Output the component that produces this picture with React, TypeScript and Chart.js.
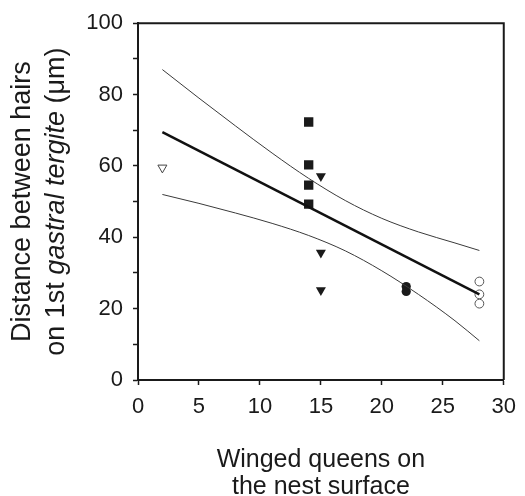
import React, { useEffect, useRef } from "react";
import { Chart, registerables } from "chart.js";

Chart.register(...registerables);

// Observations: winged queens on nest surface (x) vs distance between hairs (y, µm)
const openTriangleX = [2];
const openTriangleY = [59.5];
const squareX = [14, 14, 14, 14];
const squareY = [72.3, 60.3, 54.6, 49.3];
const triangleX = [15, 15, 15];
const triangleY = [57.1, 35.7, 25.2];
const filledCircleX = [22, 22];
const filledCircleY = [26.2, 24.8];
const openCircleX = [28, 28, 28];
const openCircleY = [27.6, 24.0, 21.4];

// Regression line and confidence band
const fitX = [2, 28];
const fitY = [69.5, 24.0];
const bandX = [2, 5, 8, 11, 14, 17, 20, 23, 26, 28];
const upperY = [87.0, 79.0, 71.2, 63.6, 56.5, 50.3, 45.3, 41.5, 38.4, 36.3];
const lowerY = [52.0, 49.5, 46.8, 43.9, 40.5, 36.2, 30.6, 24.0, 16.6, 11.0];

const xTicks = [0, 5, 10, 15, 20, 25, 30];
const yLabelStep = 20;

const xTitleLines = ["Winged queens on", "the nest surface"];
const yTitleLine1 = "Distance between hairs";
const yTitleLine2 = [
  { text: "on 1st ", italic: false },
  { text: "gastral tergite", italic: true },
  { text: " (μm)", italic: false },
];

const FONT = "'Liberation Sans', Arial, Helvetica, sans-serif";

const zip = (xs: number[], ys: number[]) => xs.map((x, i) => ({ x, y: ys[i] }));

const framePlugin = {
  id: "frameAndTitles",
  afterDraw(chart: any) {
    const { ctx, chartArea } = chart;
    const { left, right, top, bottom } = chartArea;
    ctx.save();
    // top and right frame
    ctx.strokeStyle = "#1a1a1a";
    ctx.lineWidth = 2;
    ctx.beginPath();
    ctx.moveTo(left, top);
    ctx.lineTo(right, top);
    ctx.lineTo(right, bottom);
    ctx.stroke();

    ctx.fillStyle = "#1a1a1a";
    // x title
    const cx = (left + right) / 2;
    ctx.font = `25px ${FONT}`;
    ctx.textAlign = "center";
    ctx.textBaseline = "alphabetic";
    ctx.fillText(xTitleLines[0], cx, 467);
    ctx.fillText(xTitleLines[1], cx, 494);

    // y title (rotated)
    const cy = (top + bottom) / 2;
    ctx.translate(0, cy);
    ctx.rotate(-Math.PI / 2);
    ctx.font = `27px ${FONT}`;
    ctx.textAlign = "center";
    ctx.fillText(yTitleLine1, 0, 30);
    ctx.textAlign = "left";
    const widths = yTitleLine2.map((s) => {
      ctx.font = `${s.italic ? "italic " : ""}27px ${FONT}`;
      return ctx.measureText(s.text).width;
    });
    const total = widths.reduce((a, b) => a + b, 0);
    let px = -total / 2;
    yTitleLine2.forEach((s, i) => {
      ctx.font = `${s.italic ? "italic " : ""}27px ${FONT}`;
      ctx.fillText(s.text, px, 64);
      px += widths[i];
    });
    ctx.restore();
  },
};

export default function App() {
  const ref = useRef<HTMLCanvasElement | null>(null);

  useEffect(() => {
    if (!ref.current) return;
    const chart = new Chart(ref.current, {
      type: "scatter",
      data: {
        datasets: [
          {
            label: "upper",
            data: zip(bandX, upperY),
            showLine: true,
            borderColor: "#3a3a3a",
            borderWidth: 1,
            pointRadius: 0,
            cubicInterpolationMode: "monotone",
          },
          {
            label: "lower",
            data: zip(bandX, lowerY),
            showLine: true,
            borderColor: "#3a3a3a",
            borderWidth: 1,
            pointRadius: 0,
            cubicInterpolationMode: "monotone",
          },
          {
            label: "fit",
            data: zip(fitX, fitY),
            showLine: true,
            borderColor: "#111",
            borderWidth: 2.5,
            pointRadius: 0,
          },
          {
            label: "open triangles",
            data: zip(openTriangleX, openTriangleY),
            pointStyle: "triangle",
            rotation: 180,
            pointRadius: 5.2,
            backgroundColor: "#fff",
            borderColor: "#444",
            borderWidth: 1,
          },
          {
            label: "squares",
            data: zip(squareX, squareY),
            pointStyle: "rect",
            pointRadius: 6.6,
            backgroundColor: "#1a1a1a",
            borderColor: "#1a1a1a",
            borderWidth: 0,
          },
          {
            label: "triangles",
            data: zip(triangleX, triangleY),
            pointStyle: "triangle",
            rotation: 180,
            pointRadius: 5.8,
            backgroundColor: "#1a1a1a",
            borderColor: "#1a1a1a",
            borderWidth: 0,
          },
          {
            label: "filled circles",
            data: zip(filledCircleX, filledCircleY),
            pointStyle: "circle",
            pointRadius: 4.6,
            backgroundColor: "#1a1a1a",
            borderColor: "#1a1a1a",
            borderWidth: 0,
          },
          {
            label: "open circles",
            data: zip(openCircleX, openCircleY),
            pointStyle: "circle",
            pointRadius: 4.4,
            backgroundColor: "#fff",
            borderColor: "#555",
            borderWidth: 1,
          },
        ],
      },
      options: {
        animation: false,
        responsive: false,
        maintainAspectRatio: false,
        layout: { padding: { left: 0, right: 16, top: 18, bottom: 0 } },
        plugins: {
          legend: { display: false },
          tooltip: { enabled: false },
          title: { display: false },
        },
        scales: {
          x: {
            type: "linear",
            min: 0,
            max: 30,
            afterBuildTicks: (scale: any) => {
              scale.ticks = xTicks.map((v) => ({ value: v }));
            },
            afterFit: (scale: any) => {
              scale.height = 116;
            },
            ticks: {
              color: "#1a1a1a",
              font: { family: FONT, size: 22 },
              padding: 9,
              maxRotation: 0,
              autoSkip: false,
            },
            grid: {
              drawOnChartArea: false,
              drawTicks: true,
              tickLength: 5,
              tickWidth: 1.5,
              tickColor: "#1a1a1a",
            },
            border: { display: true, color: "#1a1a1a", width: 2 },
          },
          y: {
            type: "linear",
            min: 0,
            max: 100,
            afterFit: (scale: any) => {
              scale.width = 138;
            },
            ticks: {
              stepSize: 10,
              color: "#1a1a1a",
              font: { family: FONT, size: 22 },
              padding: 10,
              autoSkip: false,
              callback: (v: any) => (Number(v) % yLabelStep === 0 ? String(v) : ""),
            },
            grid: {
              drawOnChartArea: false,
              drawTicks: true,
              tickLength: 5,
              tickWidth: 1.5,
              tickColor: "#1a1a1a",
            },
            border: { display: true, color: "#1a1a1a", width: 2 },
          },
        },
      },
      plugins: [framePlugin],
    });
    return () => chart.destroy();
  }, []);

  return (
    <div style={{ position: "fixed", left: 0, top: 0, width: 525, height: 496, background: "#fff" }}>
      <canvas ref={ref} width={525} height={496} style={{ width: 525, height: 496 }} />
    </div>
  );
}
